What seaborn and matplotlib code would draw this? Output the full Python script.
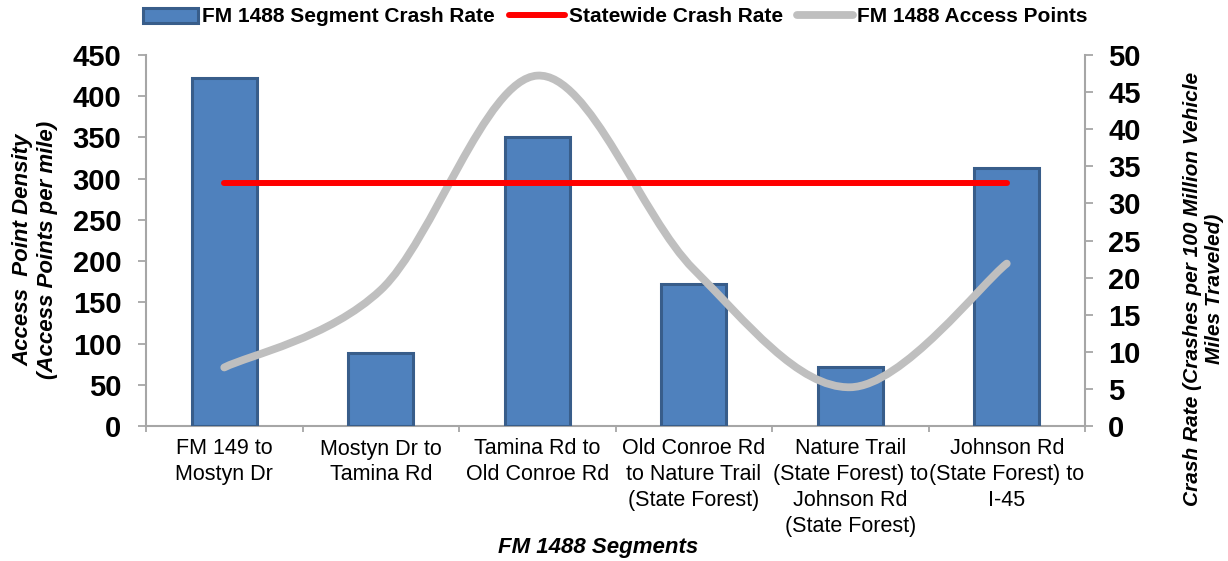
import numpy as np
import matplotlib
matplotlib.use("Agg")
import matplotlib.pyplot as plt
from matplotlib.path import Path
from matplotlib.patches import PathPatch
from matplotlib.lines import Line2D
from matplotlib.patches import Patch
import seaborn as sns

# ---- data ----
categories = [
    "FM 149 to\nMostyn Dr",
    "Mostyn Dr to\nTamina Rd",
    "Tamina Rd to\nOld Conroe Rd",
    "Old Conroe Rd\nto Nature Trail\n(State Forest)",
    "Nature Trail\n(State Forest) to\nJohnson Rd\n(State Forest)",
    "Johnson Rd\n(State Forest) to\nI-45",
]
segment_crash_rate = [46.9, 9.9, 39.0, 19.1, 7.9, 34.8]       # right axis
statewide_crash_rate = 32.8                                  # right axis
access_points = [71, 165, 425, 190, 47, 197]                 # left axis

left_ticks = list(range(0, 451, 50))
right_ticks = list(range(0, 51, 5))

sns.set_theme(style="white")
plt.rcParams["font.family"] = ["Liberation Sans", "DejaVu Sans"]
plt.rcParams["text.color"] = "black"
plt.rcParams["axes.labelcolor"] = "black"
plt.rcParams["xtick.color"] = "black"
plt.rcParams["ytick.color"] = "black"

fig = plt.figure(figsize=(12.28, 5.61), dpi=100)
ax = fig.add_axes([146 / 1228, 1 - 426 / 561, 939 / 1228, 371 / 561])
ax2 = ax.twinx()

spine_col = "#A6A6A6"

# bars (crash rate, right axis)
sns.barplot(x=list(range(len(categories))), y=segment_crash_rate, ax=ax2,
            color="#4F81BD", edgecolor="#385D8A", linewidth=2.2,
            width=0.415, saturation=1, native_scale=True, zorder=2)

n = len(categories)
xs = np.arange(n, dtype=float)

# smoothed access points line (left axis), Excel-like bezier smoothing
pts = np.column_stack([xs, np.array(access_points, dtype=float)])
verts = [tuple(pts[0])]
codes = [Path.MOVETO]
for i in range(n - 1):
    p0 = pts[i - 1] if i > 0 else pts[i]
    p1 = pts[i]
    p2 = pts[i + 1]
    p3 = pts[i + 2] if i + 2 < n else pts[i + 1]
    c1 = p1 + (p2 - p0) / 6.0
    c2 = p2 - (p3 - p1) / 6.0
    verts += [tuple(c1), tuple(c2), tuple(p2)]
    codes += [Path.CURVE4] * 3
gray_patch = PathPatch(Path(verts, codes), facecolor="none", edgecolor="#BFBFBF",
                       linewidth=5.6, capstyle="round", joinstyle="round",
                       transform=ax.transData, zorder=3)
ax2.add_patch(gray_patch)

# statewide line (right axis)
ax2.plot(xs, [statewide_crash_rate] * n, color="#FF0000", linewidth=4.3,
         solid_capstyle="round", zorder=4)

# scales
ax.set_xlim(-0.5, n - 0.5)
ax.set_ylim(0, 450)
ax2.set_ylim(0, 50)

ax.set_yticks(left_ticks)
ax.set_yticklabels([str(v) for v in left_ticks])
ax2.set_yticks(right_ticks)
ax2.set_yticklabels([str(v) for v in right_ticks])

ax.set_xticks(xs)
ax.set_xticklabels(categories)
ax.set_xticks(np.arange(-0.5, n, 1.0), minor=True)

for a in (ax, ax2):
    for s in a.spines.values():
        s.set_visible(False)
    a.grid(False)
    a.set_xlabel("")
    a.set_ylabel("")
ax.spines["left"].set_visible(True)
ax.spines["bottom"].set_visible(True)
ax2.spines["right"].set_visible(True)
for s in (ax.spines["left"], ax.spines["bottom"], ax2.spines["right"]):
    s.set_color(spine_col)
    s.set_linewidth(1.5)

ax.tick_params(axis="y", which="major", direction="out", length=5.8, width=1.3,
               color=spine_col, pad=12, labelsize=21, labelcolor="black", left=True)
ax2.tick_params(axis="y", which="major", direction="out", length=5.8, width=1.3,
                color=spine_col, pad=11, labelsize=21, labelcolor="black", right=True)
ax.tick_params(axis="x", which="major", length=0, pad=9, labelsize=15.5,
               labelcolor="black")
ax.tick_params(axis="x", which="minor", direction="out", length=4.5, width=1.3,
               color=spine_col, bottom=True)
for t in ax.get_yticklabels() + ax2.get_yticklabels():
    t.set_fontweight("bold")
for t in ax.get_xticklabels():
    t.set_linespacing(1.3)

ax.patch.set_visible(False)
ax2.patch.set_visible(False)

# axis titles
fig.text(35 / 1228, 1 - 250 / 561, "Access  Point Density\n(Access Points per mile)",
         rotation=90, ha="center", va="center", multialignment="center",
         fontsize=16, fontweight="bold", style="italic", color="black")
fig.text(1203 / 1228, 1 - 289 / 561,
         "Crash Rate (Crashes per 100 Million Vehicle\nMiles Traveled)",
         rotation=90, ha="center", va="center", multialignment="center",
         fontsize=15, fontweight="bold", style="italic", color="black")
fig.text(598 / 1228, 1 - 547 / 561, "FM 1488 Segments", ha="center", va="center",
         fontsize=16, fontweight="bold", style="italic", color="black")

# legend
handles = [
    Patch(facecolor="#4F81BD", edgecolor="#385D8A", linewidth=2.2),
    Line2D([0], [0], color="#FF0000", linewidth=4.3, solid_capstyle="round"),
    Line2D([0], [0], color="#BFBFBF", linewidth=5.6, solid_capstyle="round"),
]
labels = ["FM 1488 Segment Crash Rate", "Statewide Crash Rate", "FM 1488 Access Points"]
leg = fig.legend(handles, labels, loc="center", bbox_to_anchor=(615 / 1228, 1 - 17 / 561),
                 ncol=3, frameon=False, handlelength=2.65, handletextpad=0.2,
                 columnspacing=0.7, prop={"size": 15, "weight": "bold"})
for t in leg.get_texts():
    t.set_color("black")

fig.savefig("out.png", dpi=100)
